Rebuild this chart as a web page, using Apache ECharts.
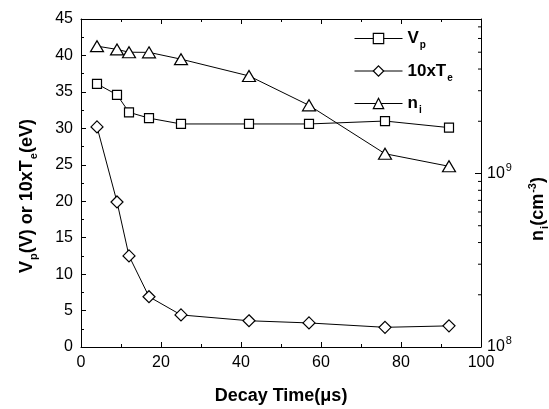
<!DOCTYPE html>
<html><head><meta charset="utf-8">
<script src="https://cdn.jsdelivr.net/npm/echarts@6/dist/echarts.min.js"></script>
<style>html,body{margin:0;padding:0;background:#fff}#c{width:549px;height:409px}</style>
</head><body><div id="c"></div>
<script>
const decayTime = [4, 9, 12, 17, 25, 42, 57, 76, 92];
const vp = [36.1, 34.6, 32.2, 31.4, 30.6, 30.6, 30.6, 31.0, 30.1];
const te10 = [30.2, 19.9, 12.5, 6.9, 4.4, 3.6, 3.3, 2.7, 2.9];
const ni = [5.42e9, 5.19e9, 5.0e9, 4.99e9, 4.56e9, 3.65e9, 2.47e9, 1.30e9, 1.10e9];
const niMinorTicks = [2e8, 3e8, 4e8, 5e8, 6e8, 7e8, 8e8, 9e8, 2e9, 3e9, 4e9, 5e9, 6e9, 7e9];
const seriesNames = ['Vp', '10xTe', 'ni'];
const legendLabels = {'Vp': 'V{sub|p}', '10xTe': '10xT{sub|e}', 'ni': 'n{sub|i}'};

const FONT = "'Liberation Sans', Arial, sans-serif";
const black = '#000';
const pair = (xs, ys) => xs.map((x, i) => [x, ys[i]]);

const chart = echarts.init(document.getElementById('c'), null, {renderer: 'canvas'});
const tickCommon = {show: true, inside: true, length: 5, lineStyle: {color: black, width: 1}};
const minorCommon = {show: true, splitNumber: 2, length: 3, lineStyle: {color: black, width: 1}};
const lineCommon = {show: true, onZero: false, lineStyle: {color: black, width: 1}};
const symStyle = {color: '#fff', borderColor: black, borderWidth: 1.2};

chart.setOption({
  animation: false,
  backgroundColor: '#fff',
  textStyle: {fontFamily: FONT, color: black},
  grid: {left: 81, right: 68, top: 19, bottom: 62, containLabel: false, outerBoundsMode: 'none'},
  legend: {
    data: seriesNames,
    orient: 'vertical',
    left: 349, top: 25,
    itemWidth: 48, itemHeight: 13, itemGap: 12,
    formatter: n => legendLabels[n],
    lineStyle: {width: 1, color: black},
    itemStyle: {color: '#fff', borderColor: black, borderWidth: 1.2},
    textStyle: {
      fontFamily: FONT, fontSize: 17, fontWeight: 'bold', color: black,
      rich: {sub: {fontFamily: FONT, fontSize: 10, fontWeight: 'bold', color: black, padding: [14, 0, 0, 1]}}
    }
  },
  xAxis: [{
    type: 'value', min: 0, max: 100, interval: 20, position: 'bottom',
    axisLine: lineCommon, axisTick: tickCommon, minorTick: minorCommon, splitLine: {show: false},
    axisLabel: {fontFamily: FONT, fontSize: 16, color: black, margin: 8},
    name: 'Decay Time(μs)', nameLocation: 'middle', nameGap: 40,
    nameTextStyle: {fontFamily: FONT, fontSize: 18, fontWeight: 'bold', color: black}
  }, {
    type: 'value', min: 0, max: 100, interval: 20, position: 'top',
    axisLine: lineCommon, axisTick: tickCommon, minorTick: minorCommon, splitLine: {show: false},
    axisLabel: {show: false}
  }],
  yAxis: [{
    type: 'value', min: 0, max: 45, interval: 5, position: 'left',
    axisLine: lineCommon, axisTick: tickCommon, minorTick: minorCommon, splitLine: {show: false},
    axisLabel: {fontFamily: FONT, fontSize: 16, color: black, margin: 8},
    name: 'V{sub|p}(V) or 10xT{sub|e}(eV)', nameLocation: 'middle', nameGap: 42,
    nameTextStyle: {fontFamily: FONT, fontSize: 18, fontWeight: 'bold', color: black, padding: [0, 26, 0, 0],
      rich: {sub: {fontFamily: FONT, fontSize: 11, fontWeight: 'bold', color: black, padding: [12, 0, 0, 1]}}}
  }, {
    type: 'log', logBase: 10, min: 1e8, max: 7.77e9, position: 'right',
    axisLine: lineCommon, axisTick: Object.assign({}, tickCommon, {length: 6}), splitLine: {show: false},
    axisLabel: {fontFamily: FONT, fontSize: 16, color: black, margin: 6, showMaxLabel: false,
      formatter: v => {
        const e = Math.log10(v), r = Math.round(e);
        return Math.abs(e - r) < 1e-6 ? '10{sup|' + r + '}' : '';
      },
      rich: {sup: {fontFamily: FONT, fontSize: 11, color: black, padding: [0, 0, 12, 1]}}
    },
    name: 'n{sub|i}(cm{sup|-3})', nameLocation: 'middle', nameGap: 46, nameRotate: 90,
    nameTextStyle: {fontFamily: FONT, fontSize: 18, fontWeight: 'bold', color: black, padding: [0, 52, 0, 0],
      rich: {
        sub: {fontFamily: FONT, fontSize: 11, fontWeight: 'bold', color: black, padding: [12, 0, 0, 1]},
        sup: {fontFamily: FONT, fontSize: 11, fontWeight: 'bold', color: black, padding: [0, 0, 12, 1]}
      }}
  }],
  series: [{
    name: 'Vp', type: 'line', xAxisIndex: 0, yAxisIndex: 0, data: pair(decayTime, vp),
    symbol: 'rect', symbolSize: 9, showAllSymbol: true,
    lineStyle: {color: black, width: 1}, itemStyle: symStyle, color: black
  }, {
    name: '10xTe', type: 'line', xAxisIndex: 0, yAxisIndex: 0, data: pair(decayTime, te10),
    symbol: 'diamond', symbolSize: [12, 12], showAllSymbol: true,
    lineStyle: {color: black, width: 1}, itemStyle: symStyle, color: black
  }, {
    name: 'ni', type: 'line', xAxisIndex: 0, yAxisIndex: 1, data: pair(decayTime, ni),
    symbol: 'triangle', symbolSize: [13, 11], showAllSymbol: true,
    lineStyle: {color: black, width: 1}, itemStyle: symStyle, color: black
  }, {
    name: 'niMinor', type: 'custom', xAxisIndex: 0, yAxisIndex: 1, silent: true,
    data: niMinorTicks.map(v => [100, v]),
    renderItem: (params, api) => {
      const p = api.coord([api.value(0), api.value(1)]);
      return {type: 'line', shape: {x1: p[0] - 3, y1: p[1], x2: p[0], y2: p[1]},
        style: {stroke: black, lineWidth: 1}};
    }
  }]
});
</script></body></html>
